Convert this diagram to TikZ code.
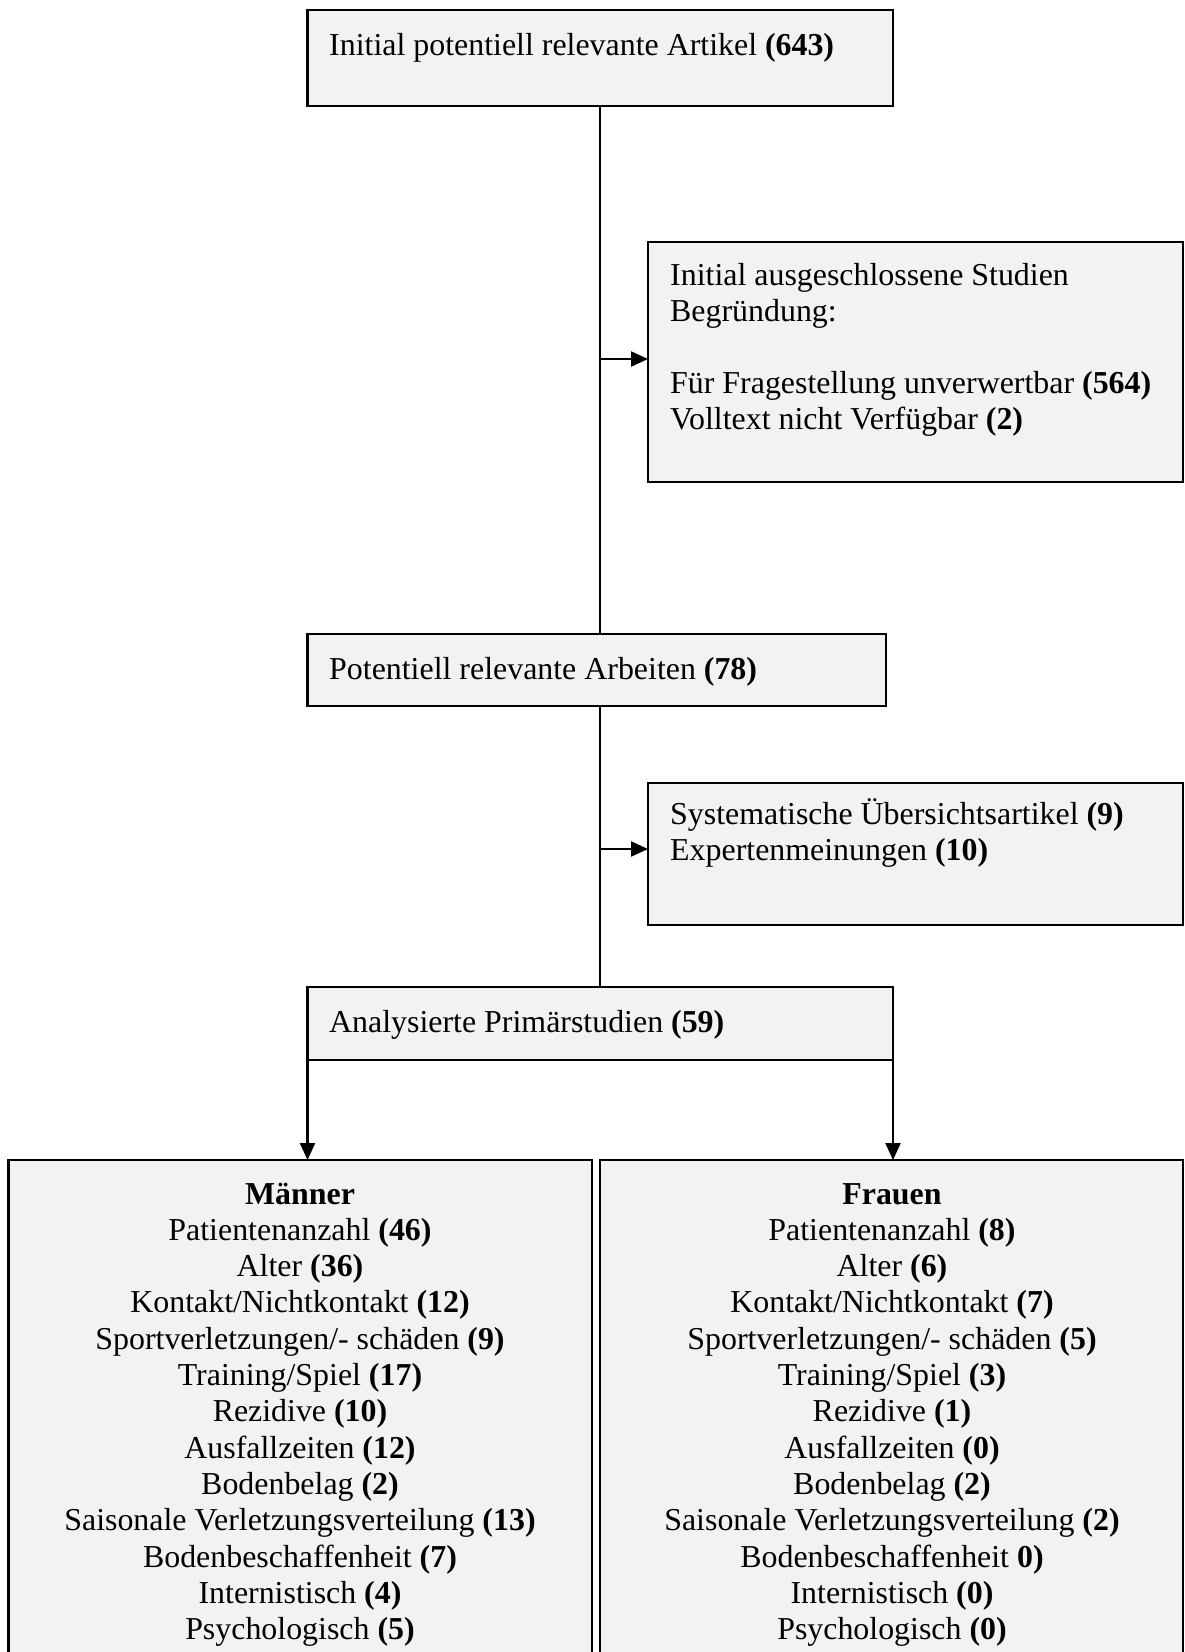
\documentclass[tikz,border=0pt]{standalone}
\usepackage{fontspec}
\setmainfont{Liberation Serif}
\usetikzlibrary{arrows.meta}
\begin{document}
\begin{tikzpicture}[x=1pt,y=-1pt,
  box/.style={draw=black,line width=2.2pt,fill=boxgray,anchor=north west,inner sep=0pt,outer sep=0pt},
  ltxt/.style={anchor=base west,inner sep=0pt,font=\fontsize{31.9}{36.3}\selectfont},
  ctxt/.style={anchor=base,inner sep=0pt,font=\fontsize{31.9}{36.3}\selectfont},
  conn/.style={line width=2.2pt},
  arr/.style={line width=2.2pt,-{Triangle[length=17pt,width=15pt]}}]
\definecolor{boxgray}{HTML}{F2F2F2}
\clip (0,0) rectangle (1185,1652);
\fill[white] (0,0) rectangle (1185,1652);
% boxes
\node[box,minimum width=585.5pt,minimum height=96pt] (b1) at (307.5,10) {};
\node[box,minimum width=535pt,minimum height=240pt] (b2) at (648,242) {};
\node[box,minimum width=578.5pt,minimum height=72pt] (b3) at (307.5,634) {};
\node[box,minimum width=535pt,minimum height=142pt] (b4) at (648,783) {};
\node[box,minimum width=585.5pt,minimum height=73pt] (b5) at (307.5,987) {};
\node[box,minimum width=583.5pt,minimum height=540pt] (m) at (8.5,1160) {};
\node[box,minimum width=583pt,minimum height=540pt] (f) at (600,1160) {};
\coordinate (a2) at (648,359);
\coordinate (a4) at (648,849);
% connectors
\draw[conn] (b1.south) -- (b1.south |- b3.north);
\draw[conn] (b1.south |- b3.south) -- (b1.south |- b5.north);
\draw[arr] (b1.south |- a2) -- (a2);
\draw[arr] (b1.south |- a4) -- (a4);
\draw[arr] (b5.south west) -- (b5.south west |- m.north);
\draw[arr] (b5.south east) -- (b5.south east |- f.north);
% texts
\node[ltxt] (t1) at (329,55) {Initial potentiell relevante Artikel \textbf{(643)}};
\node[ltxt] (t2a) at (670,285) {Initial ausgeschlossene Studien};
\node[ltxt] (t2b) at (670,321) {Begründung:};
\node[ltxt] (t2c) at (670,393) {Für Fragestellung unverwertbar \textbf{(564)}};
\node[ltxt] (t2d) at (670,429) {Volltext nicht Verfügbar \textbf{(2)}};
\node[ltxt] (t3) at (329,679) {Potentiell relevante Arbeiten \textbf{(78)}};
\node[ltxt] (t4a) at (670,824) {Systematische Übersichtsartikel \textbf{(9)}};
\node[ltxt] (t4b) at (670,860) {Expertenmeinungen \textbf{(10)}};
\node[ltxt] (t5) at (329,1032) {Analysierte Primärstudien \textbf{(59)}};
\foreach \t [count=\i] in {\textbf{Männer},
  Patientenanzahl \textbf{(46)},
  Alter \textbf{(36)},
  Kontakt/Nichtkontakt \textbf{(12)},
  Sportverletzungen/- schäden \textbf{(9)},
  Training/Spiel \textbf{(17)},
  Rezidive \textbf{(10)},
  Ausfallzeiten \textbf{(12)},
  Bodenbelag \textbf{(2)},
  Saisonale Verletzungsverteilung \textbf{(13)},
  Bodenbeschaffenheit \textbf{(7)},
  Internistisch \textbf{(4)},
  Psychologisch \textbf{(5)}}
  \node[ctxt] (mt\i) at (300,{1204+36.3*(\i-1)}) {\t};
\foreach \t [count=\i] in {\textbf{Frauen},
  Patientenanzahl \textbf{(8)},
  Alter \textbf{(6)},
  Kontakt/Nichtkontakt \textbf{(7)},
  Sportverletzungen/- schäden \textbf{(5)},
  Training/Spiel \textbf{(3)},
  Rezidive \textbf{(1)},
  Ausfallzeiten \textbf{(0)},
  Bodenbelag \textbf{(2)},
  Saisonale Verletzungsverteilung \textbf{(2)},
  Bodenbeschaffenheit \textbf{0)},
  Internistisch \textbf{(0)},
  Psychologisch \textbf{(0)}}
  \node[ctxt] (ft\i) at (892,{1204+36.3*(\i-1)}) {\t};
\end{tikzpicture}
\end{document}
